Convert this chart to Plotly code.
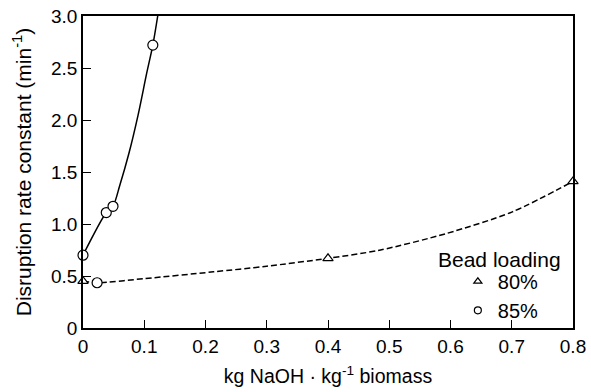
import plotly.graph_objects as go

# Data
tri_x = [0.0, 0.4, 0.8]
tri_y = [0.45, 0.67, 1.41]
circ_x = [0.0, 0.023, 0.038, 0.049, 0.114]
circ_y = [0.70, 0.435, 1.11, 1.17, 2.72]

# Fitted curves as traced on the picture
fit85_x = [0.0, 0.038, 0.049, 0.060, 0.075, 0.090, 0.104, 0.114, 0.122]
fit85_y = [0.70, 1.11, 1.17, 1.37, 1.68, 2.05, 2.45, 2.72, 3.00]
fit80_x = [0.0, 0.023, 0.1, 0.213, 0.3, 0.4, 0.484, 0.593, 0.701, 0.8]
fit80_y = [0.45, 0.435, 0.475, 0.54, 0.594, 0.67, 0.748, 0.908, 1.117, 1.41]

x_ticks = [0, 0.1, 0.2, 0.3, 0.4, 0.5, 0.6, 0.7, 0.8]
x_tick_text = ["0", "0.1", "0.2", "0.3", "0.4", "0.5", "0.6", "0.7", "0.8"]
y_ticks = [0, 0.5, 1.0, 1.5, 2.0, 2.5, 3.0]
y_tick_text = ["0", "0.5", "1.0", "1.5", "2.0", "2.5", "3.0"]

FONT = "Liberation Sans, Arial, sans-serif"

fig = go.Figure()
fig.add_trace(go.Scatter(x=fit85_x, y=fit85_y, mode="lines",
                         line=dict(color="black", width=1.5, shape="spline", smoothing=0.8),
                         showlegend=False, hoverinfo="skip"))
fig.add_trace(go.Scatter(x=fit80_x, y=fit80_y, mode="lines",
                         line=dict(color="black", width=1.5, dash="6px,3px", shape="spline", smoothing=0.8),
                         showlegend=False, hoverinfo="skip"))
fig.add_trace(go.Scatter(x=tri_x, y=tri_y, mode="markers",
                         marker=dict(symbol="triangle-up", size=9, color="white",
                                     line=dict(color="black", width=1.2)),
                         showlegend=False, cliponaxis=False))
fig.add_trace(go.Scatter(x=circ_x, y=circ_y, mode="markers",
                         marker=dict(symbol="circle", size=10, color="white",
                                     line=dict(color="black", width=1.2)),
                         showlegend=False, cliponaxis=False))
# legend entries
fig.add_trace(go.Scatter(x=[None], y=[None], mode="markers", name="80%",
                         marker=dict(symbol="triangle-up", size=7, color="white",
                                     line=dict(color="black", width=1.2)),
                         legendgroup="a"))
fig.add_trace(go.Scatter(x=[None], y=[None], mode="markers", name="85%",
                         marker=dict(symbol="circle", size=7, color="white",
                                     line=dict(color="black", width=1.2)),
                         legendgroup="b"))

fig.update_layout(
    width=591, height=392,
    margin=dict(l=83, r=18, t=16, b=64),
    paper_bgcolor="white", plot_bgcolor="white",
    font=dict(family=FONT, size=19, color="black"),
    showlegend=True,
    legend=dict(x=0.765, y=0.212, xanchor="left", yanchor="top",
                bgcolor="rgba(0,0,0,0)", tracegroupgap=0,
                font=dict(size=20), itemwidth=30),
    annotations=[dict(text="Bead loading", x=0.851, y=0.218, xref="paper", yref="paper",
                      showarrow=False, font=dict(size=21), xanchor="center", yanchor="middle")],
)
fig.update_xaxes(range=[0, 0.8], tickvals=x_ticks, ticktext=x_tick_text,
                 ticks="inside", ticklen=8, tickwidth=1.2, tickcolor="black",
                 showline=True, linecolor="black", linewidth=1.5, mirror=True,
                 showgrid=False, zeroline=False, automargin=False,
                 tickfont=dict(size=19),
                 title=dict(text="kg NaOH · kg<sup>-1</sup> biomass", standoff=14,
                            font=dict(size=19.5)))
fig.update_yaxes(range=[0, 3.0], tickvals=y_ticks, ticktext=y_tick_text,
                 ticks="inside", ticklen=8, tickwidth=1.2, tickcolor="black",
                 showline=True, linecolor="black", linewidth=1.5, mirror=True,
                 showgrid=False, zeroline=False, automargin=False,
                 tickfont=dict(size=19),
                 title=dict(text="Disruption rate constant (min<sup>-1</sup>)", standoff=14,
                            font=dict(size=21)))

fig.write_html("out.html")
